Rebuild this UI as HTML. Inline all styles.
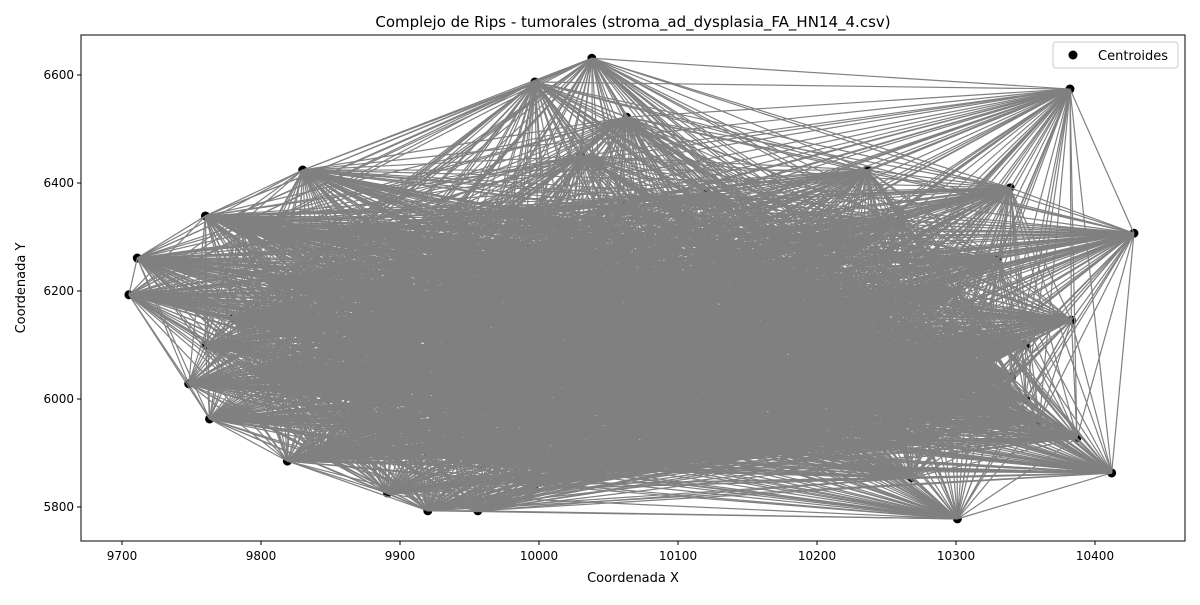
<!DOCTYPE html>
<html><head><meta charset="utf-8"><style>
body{margin:0;background:#fff;font-family:"Liberation Sans",sans-serif}
svg text{font-family:"DejaVu Sans","Liberation Sans",sans-serif}
</style></head><body>
<svg id="chart" width="1200" height="600">
<rect width="1200" height="600" fill="#fff"/>
<text x="633" y="27" text-anchor="middle" font-size="15">Complejo de Rips - tumorales (stroma_ad_dysplasia_FA_HN14_4.csv)</text>
<g id="pts"></g>
<g id="edges"></g>
<rect x="81" y="35" width="1104" height="506" fill="none" stroke="#000" stroke-width="1"/>
<g id="axes"></g>
<text x="633" y="582" text-anchor="middle" font-size="13">Coordenada X</text>
<text x="25" y="288" text-anchor="middle" font-size="13" transform="rotate(-90 25 288)">Coordenada Y</text>
<g>
<rect x="1053" y="42" width="125" height="26" rx="3" fill="#fff" fill-opacity="0.85" stroke="#ccc"/>
<circle cx="1073" cy="55" r="4.5" fill="#000"/>
<text x="1098" y="60" font-size="13">Centroides</text>
</g>
</svg>
<script>
const xs=[9705,9711,9760,9830,9997,10038,10063,10382,10428,10339,10383,10387,10412,10301,10268,9956,9920,9891,9819,9763,9748,9785,10236,10293,9997,
9850,9900,9950,10050,10100,10150,10200,10250,10300,10320,9880,9980,10080,10180,9800,10130,10030,10220,9920,10350,
9780,9820,9860,9940,9970,10010,10040,10070,10110,10140,10170,10210,10240,10270,10310,10340,10360,9810,9870,9930,9990,10060,10120,10190,10260,10330,9840,9960,10020,10090,10160,10280,9760,9900,10000,10120,10230,10350];
const ys=[6193,6261,6339,6424,6587,6631,6522,6574,6307,6391,6146,5928,5863,5778,5854,5793,5793,5826,5885,5963,6028,6324,6424,6030,5841,
6100,6250,6000,6150,6050,6250,5950,6100,6200,5980,6180,6350,6300,6000,6050,5900,6450,6300,5900,6100,
6150,6020,5950,6120,5920,6060,5980,6210,5960,6130,6040,5920,6180,5990,6080,6040,5960,6220,6320,6180,6280,6360,6380,6220,6330,6260,5900,5880,5870,5880,5900,5920,6100,6070,6200,6100,6160,6000];
const xTicks=[9700,9800,9900,10000,10100,10200,10300,10400];
const yTicks=[5800,6000,6200,6400,6600];
const X=v=>122+(v-9700)*1.39, Y=v=>399-(v-6000)*0.54;
const NS='http://www.w3.org/2000/svg';
const E=document.getElementById('edges'),P=document.getElementById('pts'),A=document.getElementById('axes');
for(let i=0;i<xs.length;i++)for(let j=i+1;j<xs.length;j++){
 if(Math.hypot(xs[i]-xs[j],ys[i]-ys[j])>720)continue;
 const l=document.createElementNS(NS,'line');
 l.setAttribute('x1',X(xs[i]));l.setAttribute('y1',Y(ys[i]));l.setAttribute('x2',X(xs[j]));l.setAttribute('y2',Y(ys[j]));
 l.setAttribute('stroke','#808080');l.setAttribute('stroke-width','1.2');
 
 
 E.appendChild(l);}
for(let i=0;i<xs.length;i++){const c=document.createElementNS(NS,'circle');
 c.setAttribute('cx',X(xs[i]));c.setAttribute('cy',Y(ys[i]));c.setAttribute('r',4.5);c.setAttribute('fill','#000');
 
 
 P.appendChild(c);}
xTicks.forEach(t=>{const x=X(t);
 const l=document.createElementNS(NS,'line');l.setAttribute('x1',x);l.setAttribute('x2',x);l.setAttribute('y1',541);l.setAttribute('y2',545);l.setAttribute('stroke','#000');
 
 
 A.appendChild(l);
 const s=document.createElementNS(NS,'text');s.setAttribute('x',x);s.setAttribute('y',560);s.setAttribute('text-anchor','middle');s.setAttribute('font-size','12');s.textContent=t;
 
 
 A.appendChild(s);});
yTicks.forEach(t=>{const y=Y(t);
 const l=document.createElementNS(NS,'line');l.setAttribute('x1',77);l.setAttribute('x2',81);l.setAttribute('y1',y);l.setAttribute('y2',y);l.setAttribute('stroke','#000');
 
 
 A.appendChild(l);
 const s=document.createElementNS(NS,'text');s.setAttribute('x',74);s.setAttribute('y',y+4);s.setAttribute('text-anchor','end');s.setAttribute('font-size','12');s.textContent=t;
 
 
 A.appendChild(s);});
</script>
</body></html>
